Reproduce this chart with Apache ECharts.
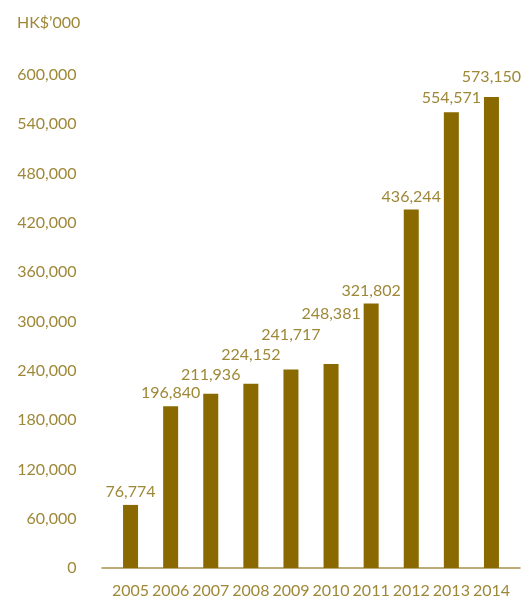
<!DOCTYPE html>
<html><head><meta charset="utf-8">
<script src="https://cdn.jsdelivr.net/npm/echarts@6/dist/echarts.min.js"></script>
<style>html,body{margin:0;padding:0;background:#fff}#c{width:521px;height:601px}</style>
</head><body><div id="c"></div>
<script>
var years = ['2005','2006','2007','2008','2009','2010','2011','2012','2013','2014'];
var values = [76774, 196840, 211936, 224152, 241717, 248381, 321802, 436244, 554571, 573150];
var yTicks = [0, 60000, 120000, 180000, 240000, 300000, 360000, 420000, 480000, 540000, 600000];
var unitLabel = 'HK$\u2019000';

// extra upward shift (px) of each value label, as staggered in the source
var labelLift = [0, 0, 6, 16, 22, 37, 0, 0, 1, 7];

var textColor = '#9E8838';
var barColor = '#8A6A00';
var lineColor = '#A89048';
var font = 'Lato';

var chart = echarts.init(document.getElementById('c'), null, {renderer: 'canvas'});
chart.setOption({
  animation: false,
  title: {text: unitLabel, left: 12, top: 10, textStyle: {color: textColor, fontFamily: font, fontSize: 16, fontWeight: 'normal'}},
  grid: [
    {left: 110.5, width: 401, top: 75, bottom: 33},
    {left: 102, right: 1, top: 75, bottom: 33}
  ],
  xAxis: [
    {type: 'category', gridIndex: 0, data: years, axisLine: {show: false}, axisTick: {show: false},
     axisLabel: {interval: 0, color: textColor, fontFamily: font, fontSize: 16, margin: 15}},
    {type: 'value', gridIndex: 1, min: 0, max: 1, axisLine: {show: true, lineStyle: {color: lineColor, width: 1.5}},
     axisTick: {show: false}, axisLabel: {show: false}, splitLine: {show: false}}
  ],
  yAxis: [
    {type: 'value', gridIndex: 0, min: yTicks[0], max: yTicks[yTicks.length-1], interval: yTicks[1]-yTicks[0],
     axisLine: {show: false}, axisTick: {show: false}, splitLine: {show: false},
     axisLabel: {color: textColor, fontFamily: font, fontSize: 16, margin: 34,
       formatter: function(v){ return v.toLocaleString('en-US'); }}},
    {type: 'value', gridIndex: 1, show: false}
  ],
  series: [{
    type: 'bar', xAxisIndex: 0, yAxisIndex: 0, barWidth: 15,
    data: values.map(function(v, i){ return {value: v, label: {offset: [0, -labelLift[i]]}}; }),
    itemStyle: {color: barColor},
    label: {show: true, position: 'top', distance: 5, color: textColor, fontFamily: font, fontSize: 16,
      formatter: function(p){ return p.value.toLocaleString('en-US'); }}
  }]
});
</script></body></html>
